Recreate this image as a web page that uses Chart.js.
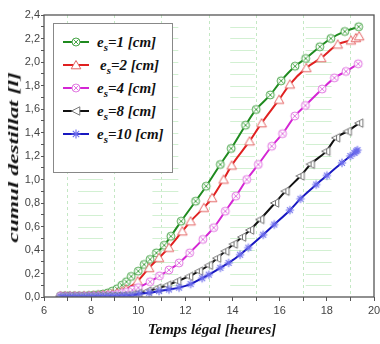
<!DOCTYPE html>
<html><head><meta charset="utf-8">
<script src="https://cdn.jsdelivr.net/npm/chart.js@4.4.1/dist/chart.umd.min.js"></script>
<style>
html,body{margin:0;padding:0;background:#fff;overflow:hidden;}
#wrap{position:relative;width:380px;height:344px;}
#c{position:absolute;left:0;top:0;}
.serif{font-family:"Liberation Serif","Times New Roman",serif;font-style:italic;font-weight:bold;}
#ytitle{position:absolute;left:13px;top:157px;transform-origin:center;font-size:15px;white-space:nowrap;color:#111;}
#xtitle{position:absolute;left:212px;top:329px;transform:translate(-50%,-50%);font-size:15px;white-space:nowrap;color:#111;}
#legend{position:absolute;left:53px;top:23px;width:118px;height:148px;border:1px solid #888;background:#fff;}
.row{position:absolute;left:9px;height:20px;display:flex;align-items:center;font-size:15px;color:#111;white-space:nowrap;}
.row svg{margin-right:8px;}
.row sub{font-size:11px;vertical-align:-4px;line-height:0;}
</style></head>
<body>
<div id="wrap">
<canvas id="c" width="380" height="344"></canvas>
<div id="ytitle" class="serif">cumul destillat [l]</div>
<div id="xtitle" class="serif">Temps légal [heures]</div>
<div id="legend"></div>
</div>
<script>
// ---- data ----
const seriesNames = ['1','2','4','8','10'];
const tGreen = [6.7,6.9,7.1,7.3,7.5,7.7,7.9,8.1,8.3,8.5,8.7,8.9,9.1,9.3,9.5,9.7,10.0,10.25,10.5,10.77,11.1,11.38,11.82,12.43,12.88,13.48,13.94,14.55,15.0,15.6,16.06,16.65,17.1,17.7,18.17,18.76,19.35];
const vGreen = [0.01,0.01,0.01,0.01,0.01,0.01,0.012,0.015,0.02,0.025,0.035,0.05,0.07,0.1,0.13,0.175,0.22,0.277,0.32,0.376,0.44,0.517,0.645,0.815,0.943,1.128,1.264,1.462,1.596,1.72,1.84,1.964,2.03,2.13,2.2,2.26,2.30];
const tRed = [6.7,6.9,7.1,7.3,7.5,7.7,7.9,8.1,8.3,8.5,8.7,8.9,9.1,9.3,9.48,9.97,10.46,10.88,11.3,11.87,12.22,12.78,13.13,13.62,13.96,14.72,15.23,15.97,16.43,17.13,17.76,18.46,19.02,19.23,19.37];
const vRed = [0.008,0.008,0.008,0.008,0.008,0.01,0.01,0.012,0.014,0.017,0.02,0.027,0.035,0.048,0.065,0.135,0.248,0.334,0.42,0.56,0.645,0.76,0.844,1.0,1.12,1.326,1.48,1.68,1.81,1.95,2.035,2.15,2.185,2.205,2.22];
const tMag = [6.7,6.9,7.1,7.3,7.5,7.7,7.9,8.1,8.3,8.5,8.7,8.9,9.1,9.3,9.5,9.75,10.0,10.5,10.9,11.3,11.73,12.18,12.74,13.2,13.69,14.14,14.6,15.09,15.66,16.12,16.64,17.09,17.8,18.32,18.81,19.33];
const vMag = [0.006,0.006,0.006,0.006,0.006,0.007,0.008,0.009,0.01,0.012,0.014,0.017,0.022,0.03,0.04,0.06,0.08,0.13,0.18,0.23,0.29,0.376,0.49,0.59,0.73,0.858,1.0,1.128,1.283,1.39,1.54,1.63,1.77,1.865,1.92,1.985];
const tBlack = [6.7,6.9,7.1,7.3,7.5,7.7,7.9,8.1,8.3,8.5,8.7,8.9,9.1,9.3,9.5,9.75,10.0,10.39,10.81,11.23,11.65,12.15,12.57,12.99,13.34,13.69,14.04,14.4,14.74,15.17,15.8,16.24,16.88,17.31,17.97,18.39,18.88,19.37];
const vBlack = [0.005,0.005,0.005,0.005,0.005,0.005,0.006,0.006,0.007,0.007,0.008,0.008,0.009,0.01,0.012,0.02,0.03,0.05,0.075,0.1,0.135,0.175,0.22,0.27,0.33,0.39,0.45,0.51,0.57,0.66,0.8,0.9,1.03,1.13,1.24,1.355,1.41,1.48];
const tBlue = [6.7,6.9,7.1,7.3,7.5,7.7,7.9,8.1,8.3,8.5,8.7,8.9,9.1,9.3,9.5,9.75,10.04,10.46,10.88,11.3,11.73,12.22,12.71,12.99,13.48,13.83,14.32,14.67,15.3,15.77,16.43,16.88,17.55,18.0,18.64,19.0,19.17,19.25,19.3];
const vBlue = [0.004,0.004,0.004,0.004,0.004,0.004,0.005,0.005,0.006,0.006,0.007,0.008,0.009,0.01,0.012,0.015,0.028,0.036,0.05,0.064,0.08,0.11,0.16,0.19,0.248,0.29,0.36,0.42,0.53,0.617,0.739,0.836,0.957,1.034,1.142,1.2,1.227,1.24,1.25];
const xTickLabels = ['6','8','10','12','14','16','18','20'];
const yTickLabels = ['0,0','0,2','0,4','0,6','0,8','1,0','1,2','1,4','1,6','1,8','2,0','2,2','2,4'];
const xMin = 6, xMax = 20, yMin = 0, yMax = 2.4;

// ---- markers ----
function mk(draw){const c=document.createElement('canvas');c.width=12;c.height=12;const g=c.getContext('2d');g.translate(6,6);g.lineWidth=1;draw(g);return c;}
function circX(col){return g=>{g.fillStyle='#fff';g.strokeStyle=col;g.beginPath();g.arc(0,0,4,0,Math.PI*2);g.fill();g.stroke();g.beginPath();g.moveTo(-2.6,-2.6);g.lineTo(2.6,2.6);g.moveTo(2.6,-2.6);g.lineTo(-2.6,2.6);g.stroke();};}
const mGreen = mk(circX('#4aa64a'));
const mMag = mk(circX('#e27ae2'));
const mRed = mk(g=>{g.fillStyle='#fff';g.strokeStyle='#e46464';g.beginPath();g.moveTo(0,-4.5);g.lineTo(4.8,3.8);g.lineTo(-4.8,3.8);g.closePath();g.fill();g.stroke();});
const mBlack = mk(g=>{g.fillStyle='#fff';g.strokeStyle='#777';g.beginPath();g.moveTo(-4.5,0);g.lineTo(3.8,-4.2);g.lineTo(3.8,4.2);g.closePath();g.fill();g.stroke();g.beginPath();g.moveTo(0.5,-2);g.lineTo(0.5,2);g.stroke();});
const mBlue = mk(g=>{g.strokeStyle='#6a6aec';g.lineWidth=1.1;g.beginPath();for(let i=0;i<4;i++){const a=i*Math.PI/4;g.moveTo(-4.2*Math.cos(a),-4.2*Math.sin(a));g.lineTo(4.2*Math.cos(a),4.2*Math.sin(a));}g.stroke();});

const lineCols = ['#1f8a1f','#e02020','#d426d4','#111111','#1818c0'];
const markers = [mGreen,mRed,mMag,mBlack,mBlue];
const ts = [tGreen,tRed,tMag,tBlack,tBlue];
const vs = [vGreen,vRed,vMag,vBlack,vBlue];

const datasets = ts.map((t,i)=>({
  label: 'es='+seriesNames[i]+' [cm]',
  data: t.map((x,j)=>({x:x,y:vs[i][j]})),
  borderColor: lineCols[i], borderWidth: 2,
  pointStyle: markers[i], pointRadius: 4, pointHoverRadius: 4,
  cubicInterpolationMode: 'monotone', fill:false
})).reverse();

// decorative grid bands + frame
const decor = {
  id:'decor',
  beforeDatasetsDraw(chart){
    const {ctx, scales:{x,y}} = chart;
    ctx.save();
    ctx.strokeStyle='#d2f0d2'; ctx.lineWidth=1;
    const bands=[[7.45,8.5],[10.6,11.7],[13.9,14.95],[17.1,18.2]];
    for(const b of bands){
      for(let k=1;k<=23;k++){
        const py=Math.round(y.getPixelForValue(k/10))+0.5;
        ctx.beginPath();ctx.moveTo(x.getPixelForValue(b[0]),py);ctx.lineTo(x.getPixelForValue(b[1]),py);ctx.stroke();
      }
    }
    ctx.restore();
  },
  afterDraw(chart){
    const {ctx, chartArea:a} = chart;
    ctx.save();
    ctx.strokeStyle='#555'; ctx.lineWidth=1.3;
    ctx.strokeRect(a.left,a.top,a.right-a.left,a.bottom-a.top);
    ctx.restore();
  }
};

new Chart(document.getElementById('c'),{
  type:'line',
  data:{datasets},
  plugins:[decor],
  options:{
    responsive:false, animation:false,
    layout:{padding:{top:15,right:1,left:0,bottom:0}},
    plugins:{legend:{display:false},tooltip:{enabled:false}},
    scales:{
      x:{type:'linear',min:xMin,max:xMax,
        ticks:{stepSize:1,autoSkip:false,maxRotation:0,padding:3,color:'#444',font:{family:'Liberation Sans',size:11},
          callback:(v)=> (v%2===0)? xTickLabels[(v-xMin)/2] : ''},
        grid:{drawOnChartArea:true,tickLength:4,tickColor:'#555',
          color:(c)=> (c.tick && c.tick.value%2===1 && c.tick.value<xMax)? '#c4e8c4':'rgba(0,0,0,0)'},
        border:{display:false,dash:[3,3]},
        afterFit:(s)=>{s.height=47;s.paddingLeft=0;s.paddingRight=0;}
      },
      y:{type:'linear',min:yMin,max:yMax,
        ticks:{stepSize:0.1,autoSkip:false,padding:1,color:'#444',font:{family:'Liberation Sans',size:11},
          callback:(v)=>{const k=Math.round(v*10);return k%2===0? yTickLabels[k/2] : '';}},
        grid:{drawOnChartArea:false,tickLength:3,tickColor:'#555'},
        border:{display:false},
        afterFit:(s)=>{s.width=44;s.paddingTop=0;s.paddingBottom=0;}
      }
    }
  }
});

// legend (HTML)
const svgMarks = [
  '<circle cx="13" cy="6" r="4" fill="#fff" stroke="#4aa64a"/><path d="M10.4 3.4L15.6 8.6M15.6 3.4L10.4 8.6" stroke="#4aa64a"/>',
  '<path d="M13 1.5L17.8 9.8L8.2 9.8Z" fill="#fff" stroke="#e46464"/>',
  '<circle cx="13" cy="6" r="4" fill="#fff" stroke="#e27ae2"/><path d="M10.4 3.4L15.6 8.6M15.6 3.4L10.4 8.6" stroke="#e27ae2"/>',
  '<path d="M8.5 6L16.8 1.8L16.8 10.2Z" fill="#fff" stroke="#777"/>',
  '<path d="M8.5 6H17.5M13 1.5V10.5M9.8 2.8L16.2 9.2M16.2 2.8L9.8 9.2" stroke="#6a6aec" stroke-width="1.1"/>'
];
const rowCenters=[18,41,64,87,110];
const lg=document.getElementById('legend');
seriesNames.forEach((n,i)=>{
  const r=document.createElement('div');r.className='row serif';r.style.top=(rowCenters[i]-10)+'px';
  r.innerHTML='<svg width="26" height="12"><line x1="0" y1="6" x2="26" y2="6" stroke="'+lineCols[i]+'" stroke-width="2"/>'+svgMarks[i]+'</svg>'+
    '<span'+(i===1?' style="margin-left:3px"':'')+'>e<sub>s</sub>='+n+' [cm]</span>';
  lg.appendChild(r);
});
// stretch y title to original length
const yt=document.getElementById('ytitle');
const w=yt.offsetWidth, h=yt.offsetHeight;
yt.style.left=(13-w/2)+'px'; yt.style.top=(157-h/2)+'px';
yt.style.transform='rotate(-90deg) scaleX('+(170/w)+')';
</script>
</body></html>
